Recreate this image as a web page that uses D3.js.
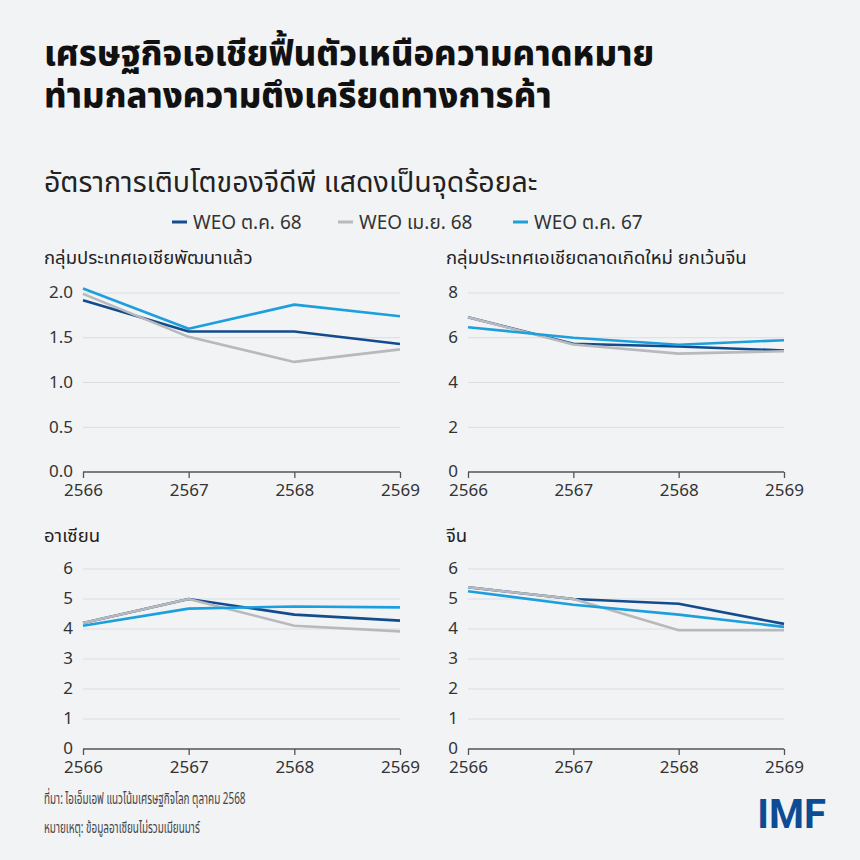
<!DOCTYPE html>
<html lang="th">
<head>
<meta charset="UTF-8">
<title>เศรษฐกิจเอเชีย</title>
<script src="https://d3js.org/d3.v7.min.js"></script>
<style>
    body {
        margin: 0;
        padding: 0;
        background-color: #f2f3f5;
        font-family: 'Noto Sans', 'Noto Sans Thai', sans-serif;
    }
    svg { display: block; }
    .grid line { stroke: #dcdde0; stroke-width: 1; }
    .tick text { fill: #333; }
</style>
</head>
<body>
<svg id="chart" width="860" height="860"></svg>
<script>
    // Data
    const years = ["2566", "2567", "2568", "2569"];
    const seriesNames = ["WEO ต.ค. 68", "WEO เม.ย. 68", "WEO ต.ค. 67"];
    const seriesColors = ["#124c8c", "#b8b9bc", "#1d9fdc"];

    const panelTitles = [
        "กลุ่มประเทศเอเชียพัฒนาแล้ว",
        "กลุ่มประเทศเอเชียตลาดเกิดใหม่ ยกเว้นจีน",
        "อาเซียน",
        "จีน"
    ];
    const panelTicks = [
        [0, 0.5, 1.0, 1.5, 2.0],
        [0, 2, 4, 6, 8],
        [0, 1, 2, 3, 4, 5, 6],
        [0, 1, 2, 3, 4, 5, 6]
    ];

    // values per panel: [WEO Oct 68, WEO Apr 68, WEO Oct 67]
    const advancedAsia = [
        [1.92, 1.57, 1.57, 1.43],
        [1.99, 1.51, 1.23, 1.37],
        [2.05, 1.60, 1.87, 1.74]
    ];
    const emergingExChina = [
        [6.92, 5.73, 5.61, 5.43],
        [6.92, 5.70, 5.29, 5.40],
        [6.47, 6.00, 5.69, 5.89]
    ];
    const asean = [
        [4.2, 5.0, 4.48, 4.28],
        [4.2, 5.0, 4.11, 3.92],
        [4.11, 4.68, 4.75, 4.72]
    ];
    const china = [
        [5.39, 5.0, 4.84, 4.17],
        [5.39, 5.0, 3.96, 3.96],
        [5.26, 4.81, 4.48, 4.07]
    ];
    const panelData = [advancedAsia, emergingExChina, asean, china];

    const svg = d3.select("#chart");

    // Titles
    const title = svg.append("text")
        .attr("x", 44)
        .attr("font-size", 34.5)
        .attr("font-weight", 800)
        .attr("fill", "#111");
    title.append("tspan").attr("x", 44).attr("y", 66).text("เศรษฐกิจเอเชียฟื้นตัวเหนือความคาดหมาย");
    title.append("tspan").attr("x", 44).attr("y", 108).text("ท่ามกลางความตึงเครียดทางการค้า");

    svg.append("text")
        .attr("x", 44)
        .attr("y", 192)
        .attr("font-size", 28.5)
        .attr("fill", "#222")
        .text("อัตราการเติบโตของจีดีพี แสดงเป็นจุดร้อยละ");

    // Legend
    const legendX = [172, 338, 513];
    const legend = svg.append("g");
    seriesNames.forEach((name, i) => {
        legend.append("line")
            .attr("x1", legendX[i]).attr("x2", legendX[i] + 15)
            .attr("y1", 222).attr("y2", 222)
            .attr("stroke", seriesColors[i])
            .attr("stroke-width", 3);
        legend.append("text")
            .attr("x", legendX[i] + 21)
            .attr("y", 229)
            .attr("font-size", 19)
            .attr("fill", "#333")
            .text(name);
    });

    // Panels
    const panels = [
        { left: 83, right: 400, top: 293, bottom: 472, titleX: 44, titleY: 264 },
        { left: 468, right: 784, top: 293, bottom: 472, titleX: 446, titleY: 264 },
        { left: 83, right: 400, top: 569, bottom: 749, titleX: 44, titleY: 542 },
        { left: 468, right: 784, top: 569, bottom: 749, titleX: 446, titleY: 542 }
    ];

    panels.forEach((p, k) => {
        const g = svg.append("g");
        const ticks = panelTicks[k];
        const x = d3.scalePoint().domain(years).range([p.left, p.right]);
        const y = d3.scaleLinear().domain([0, d3.max(ticks)]).range([p.bottom, p.top]);

        g.append("text")
            .attr("x", p.titleX)
            .attr("y", p.titleY)
            .attr("font-size", 18.5)
            .attr("fill", "#222")
            .text(panelTitles[k]);

        // grid
        g.append("g")
            .attr("class", "grid")
            .selectAll("line")
            .data(ticks.filter(t => t > 0))
            .join("line")
            .attr("x1", p.left).attr("x2", p.right)
            .attr("y1", d => y(d)).attr("y2", d => y(d));

        // y labels
        const fmt = k === 0 ? d3.format(".1f") : d3.format("d");
        const yAxis = g.append("g")
            .attr("transform", `translate(${p.left - 10},0)`)
            .call(d3.axisLeft(y).tickValues(ticks).tickFormat(fmt).tickSize(0).tickPadding(0));
        yAxis.select(".domain").remove();
        yAxis.selectAll("text").attr("font-size", 17).attr("font-family", "'Noto Sans', sans-serif").attr("dy", "0.28em");

        // lines: Oct 68 first, then Apr 68, then Oct 67 on top
        const line = d3.line().x((d, i) => x(years[i])).y(d => y(d));
        [0, 1, 2].forEach(s => {
            g.append("path")
                .datum(panelData[k][s])
                .attr("fill", "none")
                .attr("stroke", seriesColors[s])
                .attr("stroke-width", 2.6)
                .attr("stroke-linejoin", "round")
                .attr("d", line);
        });

        // x axis
        const xAxis = g.append("g")
            .attr("transform", `translate(0,${p.bottom})`)
            .call(d3.axisBottom(x).tickSize(6).tickPadding(6));
        xAxis.select(".domain").attr("stroke", "#555").attr("stroke-width", 1.3).attr("d", `M${p.left},0H${p.right}`);
        xAxis.selectAll(".tick line").attr("stroke", "#555").attr("stroke-width", 1.3);
        xAxis.selectAll("text").attr("font-size", 17).attr("font-family", "'Noto Sans', sans-serif");
    });

    // Footer (condensed look via horizontal scale)
    const notes = ["ที่มา: ไอเอ็มเอฟ แนวโน้มเศรษฐกิจโลก ตุลาคม 2568", "หมายเหตุ: ข้อมูลอาเซียนไม่รวมเมียนมาร์"];
    notes.forEach((t, i) => {
        svg.append("text")
            .attr("transform", `translate(44,${804 + i * 29}) scale(0.62,1)`)
            .attr("font-size", 16)
            .attr("fill", "#444")
            .text(t);
    });

    svg.append("text")
        .attr("transform", "translate(826,828)")
        .attr("text-anchor", "end")
        .attr("font-family", "'Roboto', sans-serif")
        .attr("font-size", 40)
        .attr("font-weight", 700)
        .attr("fill", "#0d4c93")
        .text("IMF");
</script>
</body>
</html>
